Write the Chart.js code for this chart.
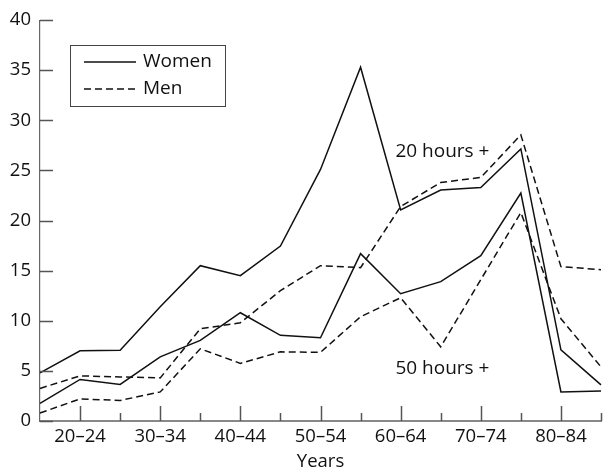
<!DOCTYPE html>
<html>
<head>
<meta charset="utf-8">
<script src="https://cdn.jsdelivr.net/npm/chart.js@4"></script>
<style>
    html, body { margin: 0; padding: 0; background: #fff; overflow: hidden; }
    #wrap { width: 603px; height: 474px; overflow: hidden; }
</style>
</head>
<body>
<div id="wrap"><canvas id="hoursChart" width="606" height="474"></canvas></div>
<script>
// Age groups (every other one gets a label)
const ageGroups = ['15–19', '20–24', '25–29', '30–34', '35–39', '40–44', '45–49', '50–54',
    '55–59', '60–64', '65–69', '70–74', '75–79', '80–84', '85+'];

// Percentages
const women20 = [4.8, 7.0, 7.05, 11.4, 15.5, 14.5, 17.45, 25.1, 35.3, 21.05, 23.05, 23.3, 27.15, 7.1, 3.6];
const women50 = [1.75, 4.15, 3.65, 6.4, 8.05, 10.8, 8.55, 8.3, 16.7, 12.7, 13.9, 16.5, 22.75, 2.9, 3.0];
const men20 = [3.25, 4.5, 4.4, 4.3, 9.2, 9.8, 13.0, 15.5, 15.3, 21.4, 23.8, 24.3, 28.55, 15.4, 15.1];
const men50 = [0.8, 2.2, 2.05, 2.9, 7.2, 5.75, 6.9, 6.85, 10.4, 12.3, 7.4, 14.1, 20.8, 10.2, 5.4];

const yTicks = [0, 5, 10, 15, 20, 25, 30, 35, 40];
const legendItems = ['Women', 'Men'];
const notes = [
    { text: '20 hours +', x: 8.87, y: 26.9 },
    { text: '50 hours +', x: 8.87, y: 5.27 }
];

const FONT = "'Open Sans', sans-serif";
const INK = '#111';
const DASH = [7, 4];

// inward tick marks, legend box and the two notes
const extras = {
    id: 'extras',
    afterDraw(chart) {
        const ctx = chart.ctx;
        const xs = chart.scales.x, ys = chart.scales.y;
        const area = chart.chartArea;
        ctx.save();
        ctx.strokeStyle = '#555';
        ctx.lineWidth = 1.5;
        ctx.beginPath();
        yTicks.forEach(v => {
            const y = Math.round(ys.getPixelForValue(v)) + 0.5;
            ctx.moveTo(area.left, y);
            ctx.lineTo(area.left + 13, y);
        });
        ageGroups.forEach((g, i) => {
            if (i === 0) return;
            const x = Math.round(xs.getPixelForValue(i)) + 0.5;
            ctx.moveTo(x, area.bottom);
            ctx.lineTo(x, area.bottom - (i % 2 ? 15 : 8));
        });
        ctx.stroke();

        // legend
        ctx.strokeStyle = '#444';
        ctx.lineWidth = 1;
        ctx.strokeRect(70.5, 45.5, 155, 61);
        ctx.font = '19px ' + FONT;
        ctx.fillStyle = INK;
        ctx.textBaseline = 'middle';
        legendItems.forEach((name, i) => {
            const y = 62 + i * 27;
            ctx.strokeStyle = INK;
            ctx.lineWidth = 1.5;
            ctx.setLineDash(i === 0 ? [] : DASH);
            ctx.beginPath();
            ctx.moveTo(84, y);
            ctx.lineTo(136, y);
            ctx.stroke();
            ctx.fillText(name, 143, y);
        });
        ctx.setLineDash([]);

        notes.forEach(n => {
            ctx.fillText(n.text, xs.getPixelForValue(n.x), ys.getPixelForValue(n.y));
        });
        ctx.restore();
    }
};

function lineSet(label, values, dashed) {
    return {
        label: label,
        data: values,
        borderColor: INK,
        borderWidth: 1.5,
        borderDash: dashed ? DASH : [],
        pointRadius: 0,
        tension: 0,
        fill: false
    };
}

const ctx = document.getElementById('hoursChart').getContext('2d');
const chart = new Chart(ctx, {
    type: 'line',
    data: {
        labels: ageGroups,
        datasets: [
            lineSet('Women 20 hours +', women20, false),
            lineSet('Women 50 hours +', women50, false),
            lineSet('Men 20 hours +', men20, true),
            lineSet('Men 50 hours +', men50, true)
        ]
    },
    options: {
        responsive: false,
        animation: false,
        layout: { padding: { top: 19, right: 1, left: 0, bottom: 0 } },
        plugins: {
            legend: { display: false },
            tooltip: { enabled: false }
        },
        scales: {
            x: {
                offset: false,
                grid: { display: false, drawTicks: false },
                border: { display: true, color: '#888', width: 2 },
                ticks: {
                    autoSkip: false,
                    maxRotation: 0,
                    padding: 5,
                    color: INK,
                    font: { family: FONT, size: 18.5 },
                    callback: (v, i) => (i % 2 === 1 ? ageGroups[i] : '')
                },
                title: {
                    display: true,
                    text: 'Years',
                    color: INK,
                    font: { family: FONT, size: 18.5 },
                    padding: { top: 0, bottom: 1 }
                },
                afterFit(scale) { scale.height = 53; }
            },
            y: {
                min: 0,
                max: 40,
                grid: { display: false, drawTicks: false },
                border: { display: true, color: '#666', width: 1.2 },
                ticks: {
                    stepSize: 5,
                    padding: 9,
                    color: INK,
                    font: { family: FONT, size: 18.5 }
                },
                afterFit(scale) { scale.width = 40; }
            }
        }
    },
    plugins: [extras]
});
</script>
</body>
</html>
